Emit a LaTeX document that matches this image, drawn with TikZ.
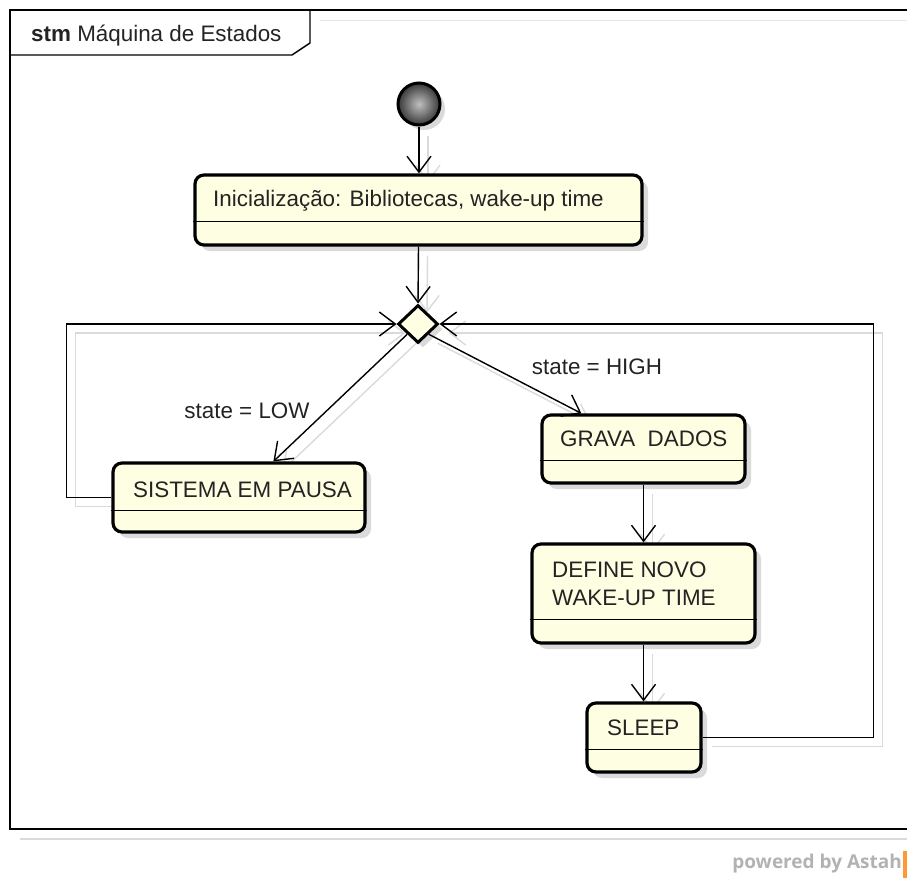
\documentclass[tikz,border=0pt]{standalone}
\usepackage{fontspec}
\setmainfont{Liberation Sans}
\newfontfamily\pwfont{Open Sans}
\usetikzlibrary{arrows.meta,shapes.geometric,calc,shadows}
\definecolor{ylw}{RGB}{254,254,226}
\definecolor{shd}{RGB}{218,218,218}
\definecolor{txt}{RGB}{35,35,35}
\pgfdeclarelayer{bg}
\pgfsetlayers{bg,main}
\begin{document}
\begin{tikzpicture}[x=1pt,y=-1pt,
  font=\fontsize{22.4}{28}\selectfont,
  conn/.style={line width=1.4pt, draw=black},
  arr/.style={conn,-{Straight Barb[length=16pt,width=24pt]}},
  ghost/.style={draw=shd, transform canvas={shift={(9pt,-9pt)}}},
  statebox/.style={draw=black, line width=3.2pt, rounded corners=9pt, fill=ylw, inner sep=0pt,
     drop shadow={shadow xshift=6pt, shadow yshift=-6pt, fill=shd, opacity=1}},
  lbl/.style={anchor=west, inner sep=0pt, text=txt},
  divider/.style={line width=1.2pt}]
\useasboundingbox (0,0) rectangle (907,878);

% frame
\draw[shd, line width=1.4pt] (20,839) -- (907,839);
\draw[shd!70, line width=1pt] (320,20) -- (907,20);
\draw[line width=1.4pt] (907,10) -- (10,10) -- (10,829) -- (907,829);
\draw[line width=1.4pt] (10,55) -- (292,55) -- (310,43) -- (310,10);
\node[lbl] (ttl) at (31,36) {\textbf{stm} Máquina de Estados};

% initial
\node[circle, draw, line width=3pt, minimum size=42pt, inner sep=0pt,
      inner color=gray!50, outer color=black!78,
      drop shadow={shadow xshift=5pt, shadow yshift=-5pt, fill=shd, opacity=1}] (i) at (419,104) {};

% states
\node[statebox, minimum width=447pt, minimum height=70pt] (b1) at (418.5,210) {};
\draw[divider] ($(b1.south west)+(0,-25)$) -- ($(b1.south east)+(0,-25)$);
\node[lbl] (t1) at (213,201) {Inicialização: Bibliotecas, wake-up time};

\node[diamond, draw, line width=3pt, fill=ylw, minimum width=40pt, minimum height=38pt, inner sep=0pt,
      drop shadow={shadow xshift=5pt, shadow yshift=-5pt, fill=shd, opacity=1}] (d) at (418,324) {};

\node[statebox, minimum width=252pt, minimum height=69pt] (b2) at (239,497.5) {};
\draw[divider] ($(b2.south west)+(0,-23)$) -- ($(b2.south east)+(0,-23)$);
\node[lbl] (t2) at (133,490) {SISTEMA EM PAUSA};

\node[statebox, minimum width=203pt, minimum height=68pt] (b3) at (643.5,449) {};
\draw[divider] ($(b3.south west)+(0,-24)$) -- ($(b3.south east)+(0,-24)$);
\node[lbl] (t3) at (560,439) {GRAVA\ \ DADOS};

\node[statebox, minimum width=223pt, minimum height=99pt] (b4) at (643.5,593.5) {};
\draw[divider] ($(b4.south west)+(0,-25)$) -- ($(b4.south east)+(0,-25)$);
\node[lbl, align=left] (t4) at (552,584) {DEFINE NOVO\\WAKE-UP TIME};

\node[statebox, minimum width=114pt, minimum height=69pt] (b5) at (644,737.5) {};
\draw[divider] ($(b5.south west)+(0,-24)$) -- ($(b5.south east)+(0,-24)$);
\node[lbl] (t5) at (607,728) {SLEEP};

% connectors (ghost copies behind)
\begin{pgfonlayer}{bg}
\draw[arr,ghost] (i.south) -- (i.south |- b1.north);
\draw[arr,ghost] (b1.south) -- (d.north);
\draw[arr,ghost] (d.south west) -- ($(b2.north west)+(162,0)$);
\draw[arr,ghost] (d.south east) -- ($(b3.north west)+(41,0)$);
\draw[arr,ghost] (b2.west) -- ++(-45,0) |- (d.west);
\draw[arr,ghost] (b5.east) -- ++(171,0) |- (d.east);
\draw[arr,ghost] (b3.south) -- (b4.north);
\draw[arr,ghost] (b4.south) -- (b4.south |- b5.north);
\end{pgfonlayer}

\draw[arr] (i.south) -- (i.south |- b1.north);
\draw[arr] (b1.south) -- (d.north);
\draw[arr] (d.south west) -- ($(b2.north west)+(162,0)$);
\draw[arr] (d.south east) -- ($(b3.north west)+(41,0)$);
\draw[arr] (b2.west) -- ++(-45,0) |- (d.west);
\draw[arr] (b5.east) -- ++(171,0) |- (d.east);
\draw[arr] (b3.south) -- (b4.north);
\draw[arr] (b4.south) -- (b4.south |- b5.north);

\node[text=txt, inner sep=0pt] (lLow) at (247,411) {state = LOW};
\node[text=txt, inner sep=0pt] (lHigh) at (597,367) {state = HIGH};

% footer
\node[anchor=east, inner sep=0pt, text=gray!60, font=\pwfont\bfseries\fontsize{19}{22}\selectfont] (pw) at (902,864) {powered by Astah};
\fill[orange!80] (903,851) rectangle (907,878);
\end{tikzpicture}
\end{document}
